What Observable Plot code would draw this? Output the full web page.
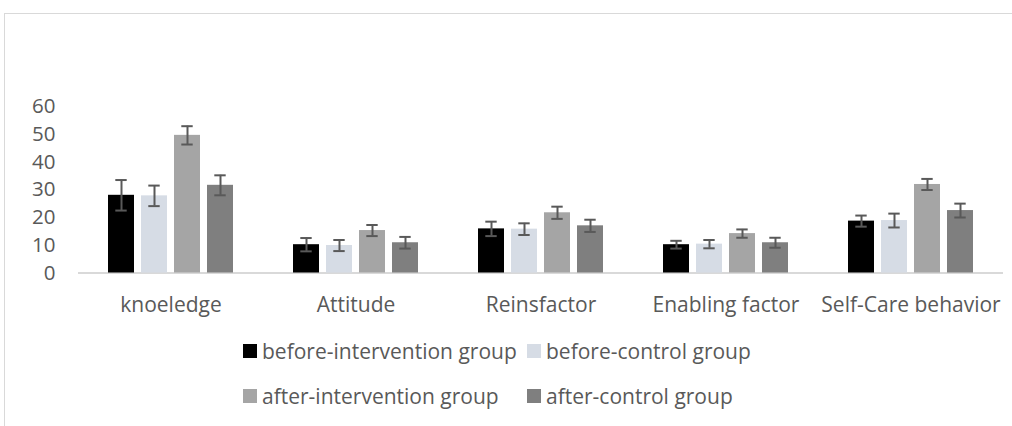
<!DOCTYPE html>
<html>
<head>
<meta charset="utf-8">
<script src="https://cdn.jsdelivr.net/npm/d3@7"></script>
<script src="https://cdn.jsdelivr.net/npm/@observablehq/plot@0.6"></script>
<style>
  html, body { margin: 0; padding: 0; background: #fff; }
  #wrap { position: relative; width: 1012px; height: 426px; overflow: hidden; font-family: "Open Sans", sans-serif; color: #595959; }
  #frame { position: absolute; left: 4px; top: 13px; width: 1100px; height: 500px; border-top: 1px solid #d9d9d9; border-left: 1px solid #d9d9d9; }
  #chart { position: absolute; left: 0; top: 0; }
  #chart svg g[aria-label="fx-axis tick label"] text, #chart svg g[aria-label="fx-axis"] text { font-size: 21px; }
  #legend { position: absolute; left: 243px; top: 338px; display: grid; grid-template-columns: 284px auto; row-gap: 19px; font-size: 21px; line-height: 26px; }
  .item { display: flex; align-items: center; white-space: nowrap; }
  .sw { width: 14px; height: 14px; margin-right: 5px; flex: none; }
</style>
</head>
<body>
<div id="wrap">
  <div id="frame"></div>
  <div id="chart"></div>
  <div id="legend"></div>
</div>
<script>
const categories = ["knoeledge", "Attitude", "Reinsfactor", "Enabling factor", "Self-Care behavior"];
const groups = ["before-intervention group", "before-control group", "after-intervention group", "after-control group"];
const colors = ["#000000", "#D6DCE5", "#A5A5A5", "#7F7F7F"];
const yTicks = [0, 10, 20, 30, 40, 50, 60];

const beforeIntervention = [28.0, 10.2, 15.9, 10.2, 18.7];
const beforeControl      = [27.8, 9.9, 15.8, 10.4, 18.9];
const afterIntervention  = [49.6, 15.3, 21.7, 14.2, 31.9];
const afterControl       = [31.6, 10.9, 17.0, 10.9, 22.5];

const errBeforeIntervention = [5.5, 2.4, 2.6, 1.4, 2.0];
const errBeforeControl      = [3.7, 2.0, 2.1, 1.5, 2.5];
const errAfterIntervention  = [3.3, 2.0, 2.2, 1.5, 2.0];
const errAfterControl       = [3.6, 2.1, 2.2, 1.8, 2.5];

const seriesValues = [beforeIntervention, beforeControl, afterIntervention, afterControl];
const seriesErrors = [errBeforeIntervention, errBeforeControl, errAfterIntervention, errAfterControl];

const rows = [];
categories.forEach((c, i) => {
  groups.forEach((g, j) => {
    rows.push({category: c, group: g, value: seriesValues[j][i], err: seriesErrors[j][i]});
  });
});

const chart = Plot.plot({
  width: 1012,
  height: 330,
  marginTop: 106,
  marginBottom: 57.5,
  marginLeft: 76,
  marginRight: 8,
  style: {background: "transparent", fontFamily: "'Open Sans', sans-serif", fontSize: "20.5px", color: "#595959", overflow: "visible"},
  facet: {data: rows, x: "category"},
  fx: {domain: categories, padding: 0, axis: "bottom", label: null, tickSize: 0, tickPadding: 24},
  x: {domain: groups, paddingInner: 0.208, paddingOuter: 0.864, axis: null},
  y: {domain: [0, 60], ticks: yTicks, tickSize: 0, tickPadding: 23, label: null},
  color: {domain: groups, range: colors},
  marks: [
    Plot.ruleY([0], {stroke: "#d9d9d9", strokeWidth: 2}),
    Plot.barY(rows, {x: "group", y: "value", fill: "group"}),
    Plot.ruleX(rows, {x: "group", y1: d => d.value - d.err, y2: d => d.value + d.err, stroke: "#595959", strokeWidth: 2}),
    Plot.tickY(rows, {x: "group", y: d => d.value + d.err, stroke: "#595959", strokeWidth: 2, insetLeft: 7.3, insetRight: 7.3}),
    Plot.tickY(rows, {x: "group", y: d => d.value - d.err, stroke: "#595959", strokeWidth: 2, insetLeft: 7.3, insetRight: 7.3})
  ]
});
document.getElementById("chart").appendChild(chart);

const legend = document.getElementById("legend");
groups.forEach((g, j) => {
  const item = document.createElement("div");
  item.className = "item";
  const sw = document.createElement("span");
  sw.className = "sw";
  sw.style.background = colors[j];
  const t = document.createElement("span");
  t.textContent = g;
  item.appendChild(sw);
  item.appendChild(t);
  legend.appendChild(item);
});
</script>
</body>
</html>
